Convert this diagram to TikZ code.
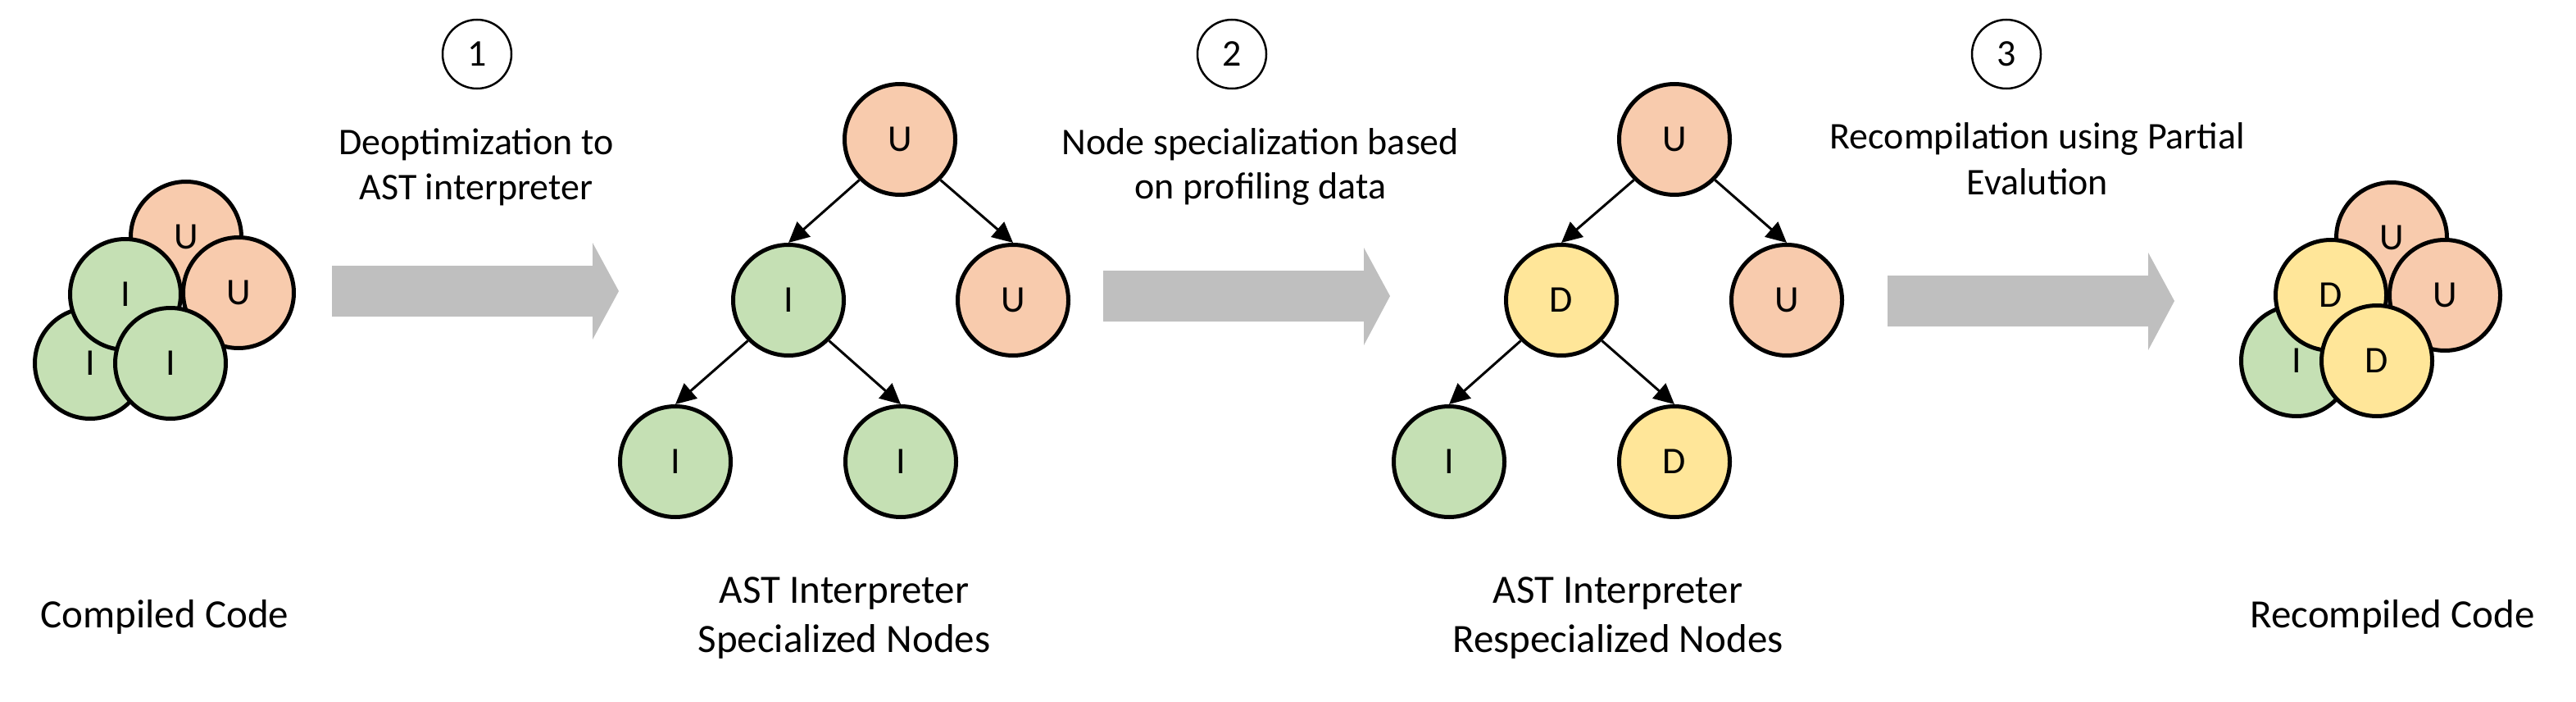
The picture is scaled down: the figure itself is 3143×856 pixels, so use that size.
\documentclass[tikz,border=0pt]{standalone}
\usepackage{fontspec}
\setmainfont{Carlito}
\usetikzlibrary{arrows.meta}
\definecolor{uorange}{HTML}{F8CBAD}
\definecolor{igreen}{HTML}{C5E0B4}
\definecolor{dyellow}{HTML}{FFE699}
\definecolor{arrowgray}{HTML}{BFBFBF}
\begin{document}
\begin{tikzpicture}[x=1pt,y=-1pt,
  ast/.style={circle,draw=black,line width=5pt,minimum size=135pt,inner sep=0pt,font=\fontsize{46}{55}\selectfont},
  unode/.style={ast,fill=uorange},
  inode/.style={ast,fill=igreen},
  dnode/.style={ast,fill=dyellow},
  edge/.style={line width=3pt,-{Triangle[length=25pt,width=24pt]}},
  stepnum/.style={circle,draw=black,line width=2.5pt,minimum size=84pt,inner sep=0pt,font=\fontsize{46}{55}\selectfont},
  steptext/.style={anchor=base,inner sep=0pt,font=\fontsize{46}{55}\selectfont},
  caption/.style={anchor=base,inner sep=0pt,font=\fontsize{49}{60}\selectfont},
  bigarrow/.style={fill=arrowgray}]
\useasboundingbox (0,0) rectangle (3143,856);

% ---- cluster 1: compiled code
\node[unode] (c1a) at (227,289) {U};
\node[unode] (c1b) at (291,357) {U};
\node[inode] (c1c) at (110,443) {I};
\node[inode] (c1d) at (153,359) {I};
\node[inode] (c1e) at (208,443) {I};
\node[caption] (cap1) at (201,765) {Compiled Code};

% ---- step 1
\node[stepnum] (s1) at (582,66) {1};
\node[steptext] (s1t1) at (581,188) {Deoptimization to};
\node[steptext] (s1t2) at (581,243) {AST interpreter};
\fill[bigarrow] (405,324) -- (723,324) -- (723,296) -- (755,355) -- (723,414) -- (723,386) -- (405,386) -- cycle;

% ---- tree 1
\node[unode] (t1r) at (1098,170) {U};
\node[inode] (t1a) at (962,366) {I};
\node[unode] (t1b) at (1236,366) {U};
\node[inode] (t1c) at (824,563) {I};
\node[inode] (t1d) at (1099,563) {I};
\draw[edge] (t1r.225) -- (t1a.north);
\draw[edge] (t1r.-45) -- (t1b.north);
\draw[edge] (t1a.225) -- (t1c.north);
\draw[edge] (t1a.-45) -- (t1d.north);
\node[caption] (cap2a) at (1030,735) {AST Interpreter};
\node[caption] (cap2b) at (1030,795) {Specialized Nodes};

% ---- step 2
\node[stepnum] (s2) at (1503,66) {2};
\node[steptext] (s2t1) at (1538,188) {Node specialization based};
\node[steptext] (s2t2) at (1538,242) {on profiling data};
\fill[bigarrow] (1346,330) -- (1664,330) -- (1664,302) -- (1696,361) -- (1664,421) -- (1664,392) -- (1346,392) -- cycle;

% ---- tree 2
\node[unode] (t2r) at (2043,170) {U};
\node[dnode] (t2a) at (1905,366) {D};
\node[unode] (t2b) at (2180,366) {U};
\node[inode] (t2c) at (1768,563) {I};
\node[dnode] (t2d) at (2043,563) {D};
\draw[edge] (t2r.225) -- (t2a.north);
\draw[edge] (t2r.-45) -- (t2b.north);
\draw[edge] (t2a.225) -- (t2c.north);
\draw[edge] (t2a.-45) -- (t2d.north);
\node[caption] (cap3a) at (1974,735) {AST Interpreter};
\node[caption] (cap3b) at (1974,795) {Respecialized Nodes};

% ---- step 3
\node[stepnum] (s3) at (2448,66) {3};
\node[steptext] (s3t1) at (2486,182) {Recompilation using Partial};
\node[steptext] (s3t2) at (2486,237) {Evalution};
\fill[bigarrow] (2303,336) -- (2621,336) -- (2621,308) -- (2653,367) -- (2621,427) -- (2621,398) -- (2303,398) -- cycle;

% ---- cluster 3: recompiled code
\node[unode] (c3a) at (2918,290) {U};
\node[unode] (c3b) at (2983,360) {U};
\node[inode] (c3c) at (2802,440) {I};
\node[dnode] (c3d) at (2844,360) {D};
\node[dnode] (c3e) at (2900,440) {D};
\node[caption] (cap4) at (2919,765) {Recompiled Code};
\end{tikzpicture}
\end{document}
